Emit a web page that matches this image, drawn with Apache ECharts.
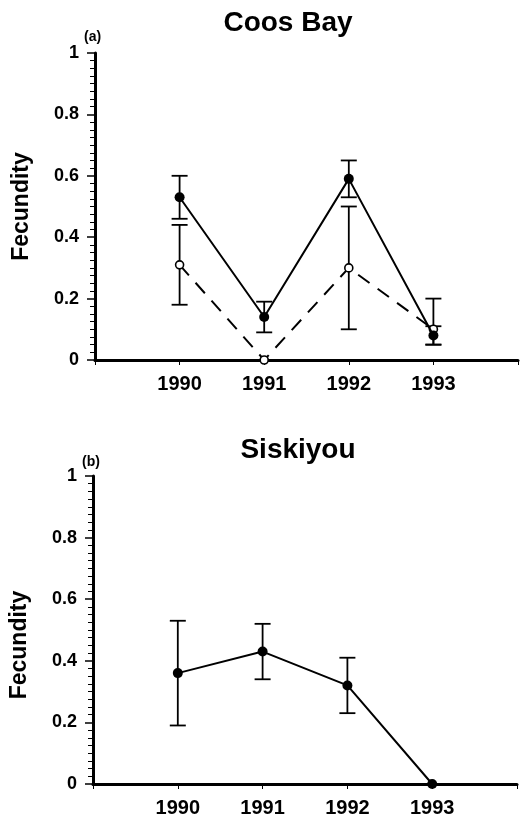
<!DOCTYPE html>
<html>
<head>
<meta charset="utf-8">
<script src="https://cdn.jsdelivr.net/npm/echarts@6/dist/echarts.min.js"></script>
<style>
  html, body { margin: 0; padding: 0; background: #fff; }
  #main { width: 524px; height: 820px; }
</style>
</head>
<body>
<div id="main"></div>
<script>
// data
const years = [1990, 1991, 1992, 1993];
const yTicks = [0, 0.2, 0.4, 0.6, 0.8, 1];

// (a) Coos Bay - filled circles, solid line
const coosFilled = [0.53, 0.14, 0.59, 0.08];
const coosFilledLow = [0.46, 0.09, 0.53, 0.05];
const coosFilledHigh = [0.60, 0.19, 0.65, 0.11];
// (a) Coos Bay - open circles, dashed line
const coosOpen = [0.31, 0.0, 0.30, 0.10];
const coosOpenLow = [0.18, null, 0.10, 0.05];
const coosOpenHigh = [0.44, null, 0.50, 0.20];

// (b) Siskiyou
const sisk = [0.36, 0.43, 0.32, 0.0];
const siskLow = [0.19, 0.34, 0.23, null];
const siskHigh = [0.53, 0.52, 0.41, null];

const FONT = '"Liberation Sans", Arial, Helvetica, sans-serif';

const pts = (vals) => years.map((y, i) => [y, vals[i]]);
const bars = (lo, hi) => years.map((y, i) => [y, lo[i], hi[i]]).filter(d => d[1] != null);

// error bar: vertical line + two caps
const errRender = (params, api) => {
  const x = api.value(0);
  const lo = api.coord([x, api.value(1)]);
  const hi = api.coord([x, api.value(2)]);
  const w = 8;
  const style = { stroke: '#000', lineWidth: 1.8 };
  return {
    type: 'group',
    children: [
      { type: 'line', shape: { x1: lo[0], y1: lo[1], x2: hi[0], y2: hi[1] }, style: style },
      { type: 'line', shape: { x1: lo[0] - w, y1: lo[1], x2: lo[0] + w, y2: lo[1] }, style: style },
      { type: 'line', shape: { x1: hi[0] - w, y1: hi[1], x2: hi[0] + w, y2: hi[1] }, style: style }
    ]
  };
};

const xAxisCfg = (gi) => ({
  type: 'value', gridIndex: gi, min: 1989, max: 1994, interval: 1,
  axisLine: { lineStyle: { color: '#000', width: 3 } },
  axisTick: { show: true, inside: false, length: 5, lineStyle: { color: '#000', width: 1 } },
  axisLabel: {
    margin: 14, color: '#000', fontFamily: FONT, fontWeight: 'bold', fontSize: 20,
    formatter: v => (v >= 1990 && v <= 1993) ? String(v) : ''
  },
  splitLine: { show: false }
});

const yAxisCfg = (gi, namePad) => ({
  type: 'value', gridIndex: gi, min: 0, max: 1, interval: 0.2,
  name: 'Fecundity', nameLocation: 'middle', nameGap: 62, nameRotate: 90,
  nameTextStyle: { color: '#000', fontFamily: FONT, fontWeight: 'bold', fontSize: 23, padding: namePad },
  axisLine: { lineStyle: { color: '#000', width: 3 } },
  axisTick: { show: true, inside: false, length: 8, lineStyle: { color: '#000', width: 1.5 } },
  minorTick: { show: true, splitNumber: 8, length: 5, lineStyle: { color: '#000', width: 1 } },
  axisLabel: {
    margin: 16, color: '#000', fontFamily: FONT, fontWeight: 'bold', fontSize: 18,
    formatter: v => yTicks.some(t => Math.abs(t - v) < 1e-6) ? String(+v.toFixed(1)) : ''
  },
  splitLine: { show: false }
});

const chart = echarts.init(document.getElementById('main'), null, { renderer: 'canvas' });
chart.setOption({
  backgroundColor: '#fff',
  animation: false,
  title: [
    { text: 'Coos Bay', left: 283, top: 4, textAlign: 'center',
      textStyle: { fontFamily: FONT, fontWeight: 'bold', fontSize: 28, color: '#000' } },
    { text: 'Siskiyou', left: 293, top: 431, textAlign: 'center',
      textStyle: { fontFamily: FONT, fontWeight: 'bold', fontSize: 28, color: '#000' } },
    { text: '(a)', left: 79, top: 25,
      textStyle: { fontFamily: FONT, fontWeight: 'bold', fontSize: 14, color: '#000' } },
    { text: '(b)', left: 77, top: 450,
      textStyle: { fontFamily: FONT, fontWeight: 'bold', fontSize: 14, color: '#000' } }
  ],
  grid: [
    { left: 95, right: 6, top: 53, height: 307 },
    { left: 93, right: 7, top: 476, height: 308 }
  ],
  xAxis: [xAxisCfg(0), xAxisCfg(1)],
  yAxis: [yAxisCfg(0, [0, 0, 0, 0]), yAxisCfg(1, [0, 30, 0, 0])],
  series: [
    { type: 'custom', xAxisIndex: 0, yAxisIndex: 0, renderItem: errRender,
      data: bars(coosFilledLow, coosFilledHigh), z: 2 },
    { type: 'custom', xAxisIndex: 0, yAxisIndex: 0, renderItem: errRender,
      data: bars(coosOpenLow, coosOpenHigh), z: 2 },
    { type: 'line', xAxisIndex: 0, yAxisIndex: 0, data: pts(coosOpen),
      symbol: 'circle', symbolSize: 8, z: 3,
      lineStyle: { color: '#000', width: 2, type: [14, 10] },
      itemStyle: { color: '#fff', borderColor: '#000', borderWidth: 1.6 } },
    { type: 'line', xAxisIndex: 0, yAxisIndex: 0, data: pts(coosFilled),
      symbol: 'circle', symbolSize: 10, z: 4,
      lineStyle: { color: '#000', width: 2 },
      itemStyle: { color: '#000' } },
    { type: 'custom', xAxisIndex: 1, yAxisIndex: 1, renderItem: errRender,
      data: bars(siskLow, siskHigh), z: 2 },
    { type: 'line', xAxisIndex: 1, yAxisIndex: 1, data: pts(sisk),
      symbol: 'circle', symbolSize: 10, z: 4,
      lineStyle: { color: '#000', width: 2 },
      itemStyle: { color: '#000' } }
  ]
});
</script>
</body>
</html>
